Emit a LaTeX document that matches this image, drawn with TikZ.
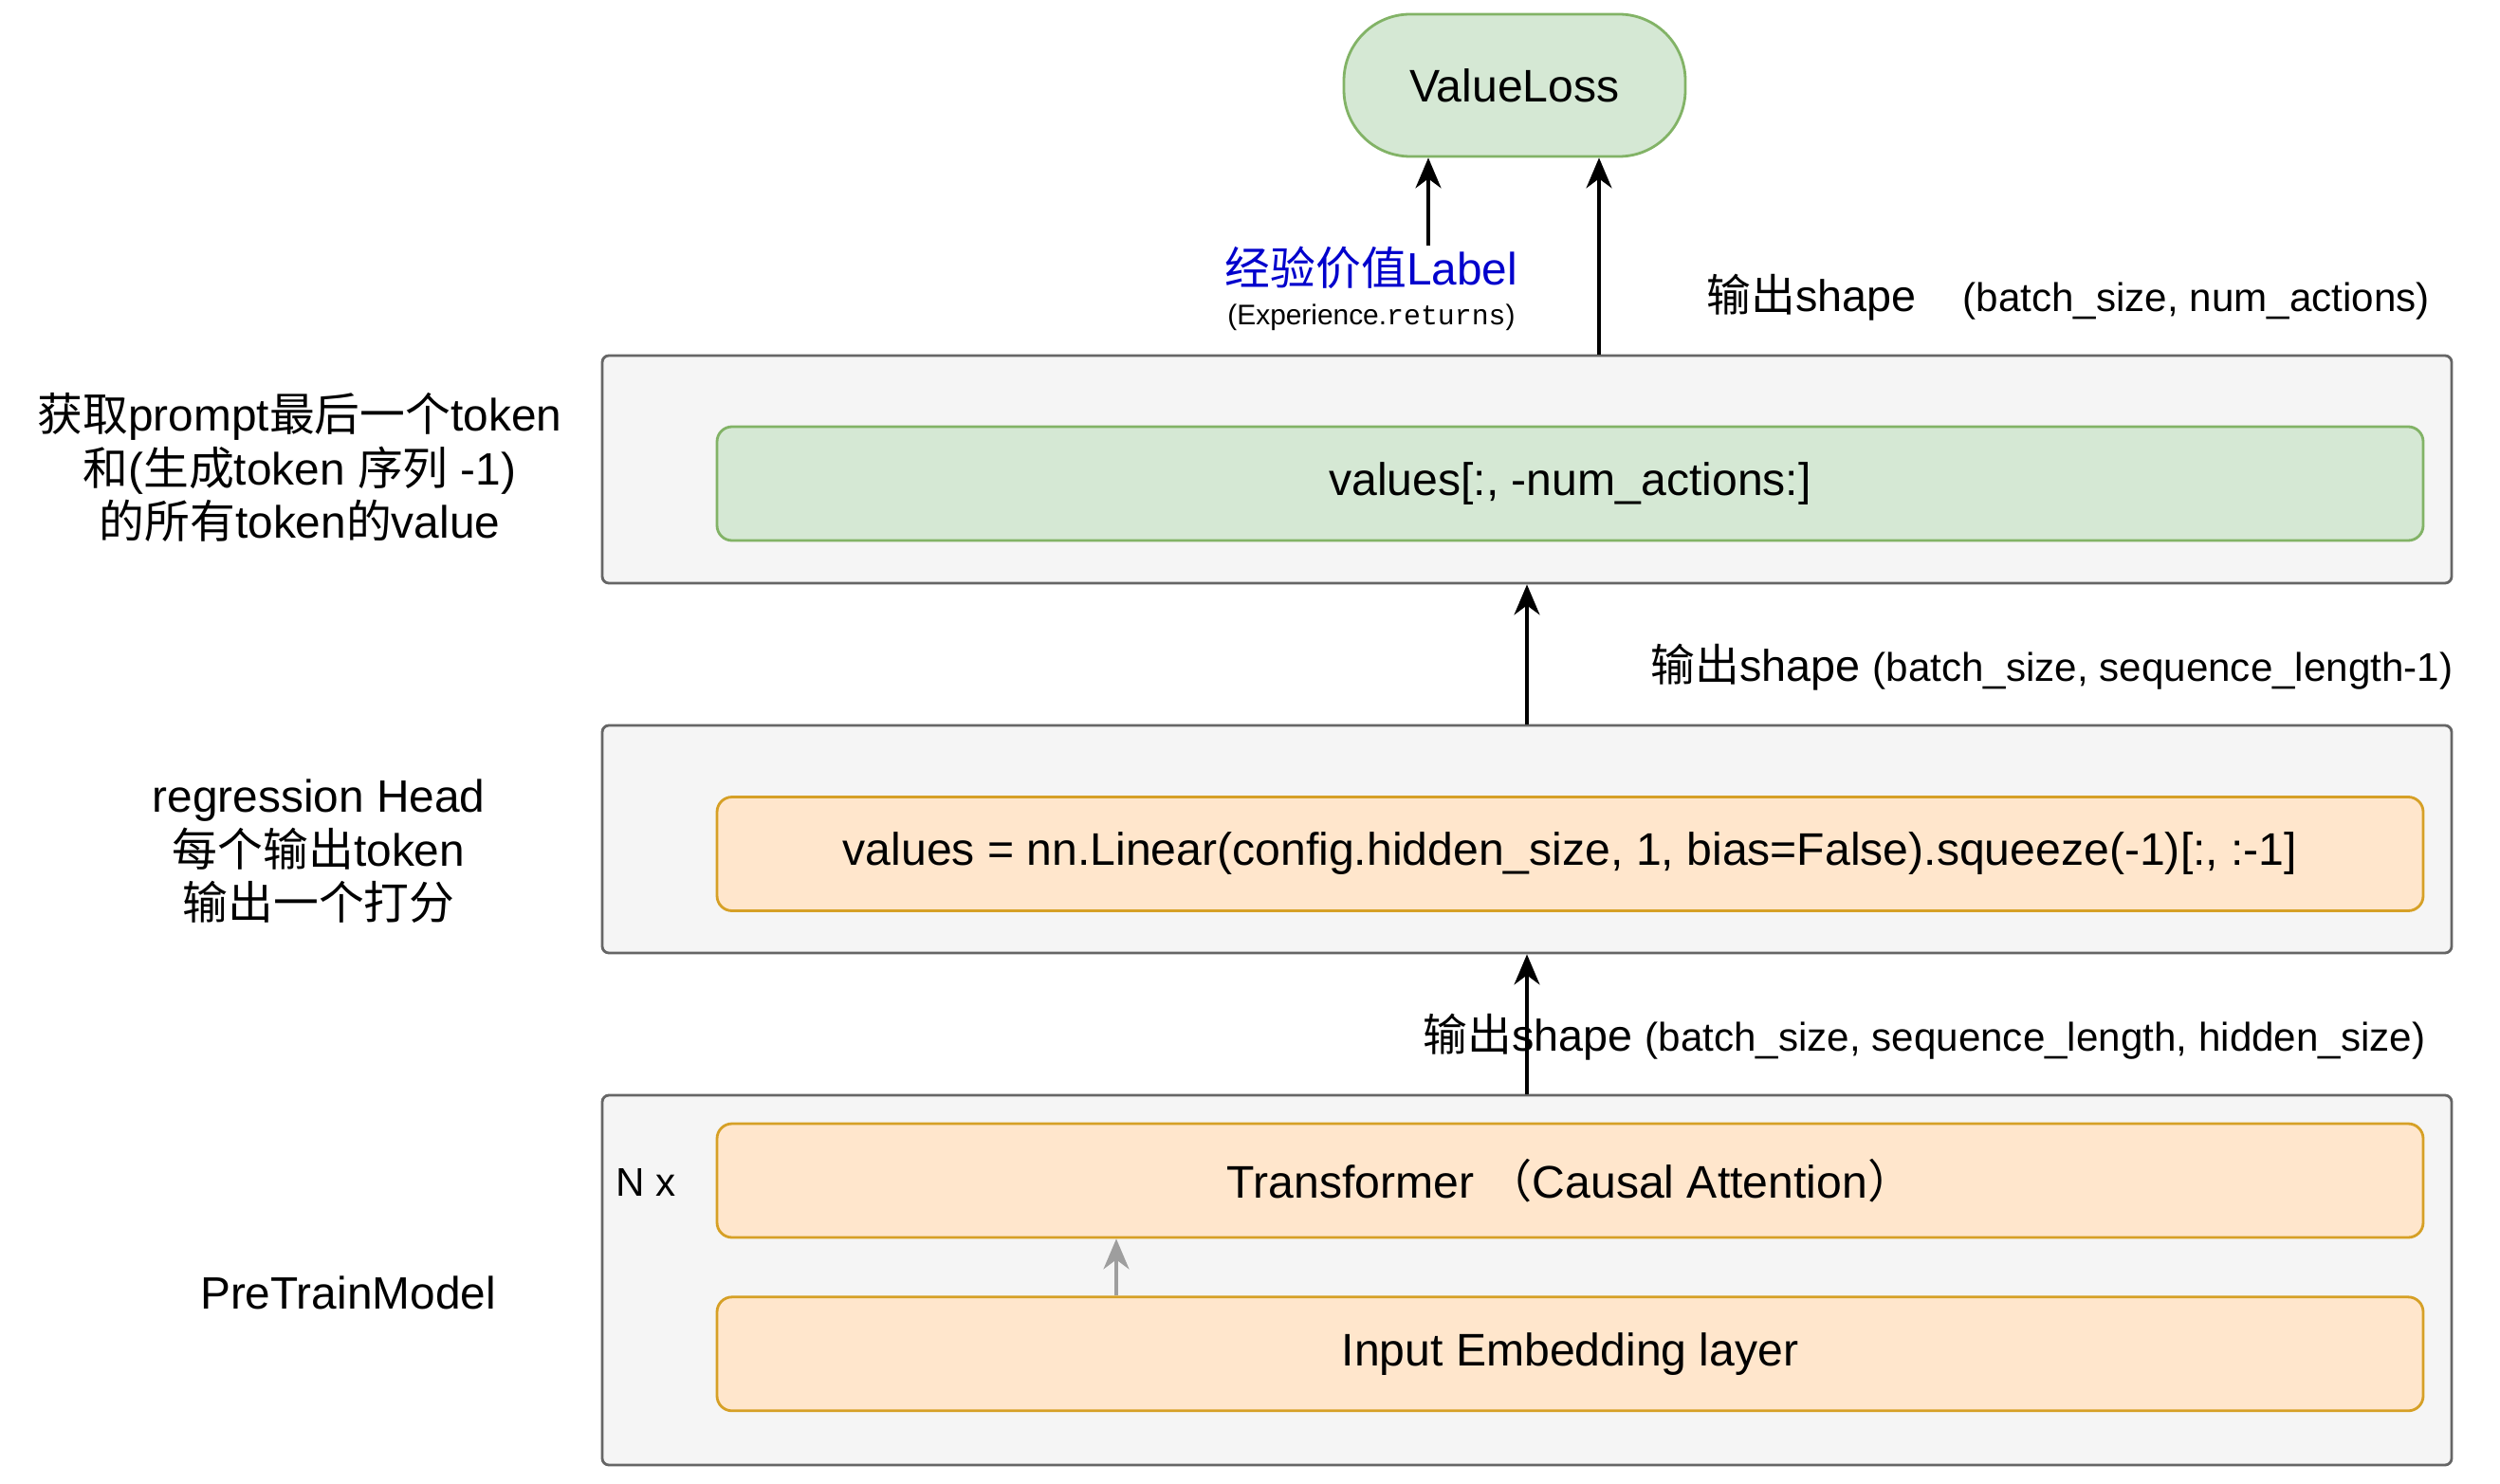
\documentclass[tikz,border=0pt]{standalone}
\usepackage{fontspec}
\setmainfont{Liberation Sans}
\newfontfamily\cjk{Noto Sans CJK SC}
\newfontfamily\codefont{Liberation Mono}
\newcommand{\zh}[1]{{\cjk #1}}
\usetikzlibrary{arrows.meta, positioning}
\definecolor{layerfill}{HTML}{F5F5F5}
\definecolor{layerline}{HTML}{666666}
\definecolor{greenfill}{HTML}{D5E8D4}
\definecolor{greenline}{HTML}{82B366}
\definecolor{orangefill}{HTML}{FFE6CC}
\definecolor{orangeline}{HTML}{D6A026}
\definecolor{labelblue}{HTML}{0000CC}
\tikzset{
  layer/.style={draw=layerline, fill=layerfill, line width=0.8pt, rounded corners=2pt, minimum width=19.5cm, minimum height=2.4cm},
  block/.style={line width=0.8pt, rounded corners=4.5pt, minimum width=17.99cm, minimum height=1.2cm, font=\fontsize{13.7}{16}\selectfont},
  greenblock/.style={block, draw=greenline, fill=greenfill},
  orangeblock/.style={block, draw=orangeline, fill=orangefill},
  note/.style={align=center, inner sep=0pt, font=\fontsize{13.6}{16.1}\selectfont},
  shapetxt/.style={anchor=west, inner sep=0pt, font=\fontsize{13.3}{16}\selectfont},
  flow/.style={-{Stealth[length=3.2mm, width=2.7mm, inset=1mm]}, line width=0.9pt},
  innerflow/.style={flow, draw=black!38, fill=black!38},
}

\begin{document}
\begin{tikzpicture}
  \useasboundingbox (0,0) rectangle (26.36,-15.65);

  % loss and label
  \node[draw=greenline, fill=greenfill, line width=0.8pt, rounded corners=0.7cm,
        minimum width=3.6cm, minimum height=1.5cm, font=\fontsize{13.7}{16}\selectfont] (loss) at (15.97,-0.90) {ValueLoss};
  \node[note, text=labelblue] (lbl) at (14.46,-2.82) {\zh{经验价值}Label};
  \node[note, font=\fontsize{8.5}{10}\selectfont] (lblsrc) at (14.46,-3.35) {(Experience.{\codefont returns})};

  % layers
  \node[layer] (outbox) at (16.10,-4.95) {};
  \node[greenblock] (vals) at (16.555,-5.10) {values[:, -num\_actions:]};
  \node[layer] (headbox) at (16.10,-8.85) {};
  \node[orangeblock] (head) at (16.555,-9.005) {values = nn.Linear(config.hidden\_size, 1, bias=False).squeeze(-1)[:, :-1]};
  \node[layer, minimum height=3.9cm] (ptmbox) at (16.10,-13.50) {};
  \node[orangeblock] (tfm) at (16.555,-12.45) {Transformer \zh{（}Causal Attention\zh{）}};
  \node[orangeblock, below=0.6cm of tfm] (emb) {Input Embedding layer};
  \node[note, font=\fontsize{12}{14}\selectfont] (nx) at (6.81,-12.47) {N x};

  % side notes
  \node[note] (outnote) at (3.16,-4.93) {\zh{获取}prompt\zh{最后一个}token\\\zh{和}(\zh{生成}token \zh{序列} -1)\\\zh{的所有}token\zh{的}value};
  \node[note] (headnote) at (3.36,-8.98) {regression Head\\\zh{每个输出}token\\\zh{输出一个打分}};
  \node[note] (ptmnote) at (3.67,-13.63) {PreTrainModel};

  % shapes
  \node[shapetxt] (shape1) at (17.99,-3.14) {\zh{输出}shape\hspace{14pt}{\fontsize{12}{14}\selectfont (batch\_size, num\_actions)}};
  \node[shapetxt] (shape2) at (17.40,-7.04) {\zh{输出}shape {\fontsize{12}{14}\selectfont (batch\_size, sequence\_length-1)}};
  \node[shapetxt] (shape3) at (15.00,-10.94) {\zh{输出}shape {\fontsize{12}{14}\selectfont (batch\_size, sequence\_length, hidden\_size)}};

  % arrows
  \coordinate (lx) at (15.06,0);
  \coordinate (vx) at (16.86,0);
  \coordinate (gx) at (11.77,0);
  \draw[flow] (lbl.north -| lx) -- (loss.south -| lx);
  \draw[flow] (outbox.north -| vx) -- (loss.south -| vx);
  \draw[flow] (headbox.north) -- (outbox.south);
  \draw[flow] (ptmbox.north) -- (headbox.south);
  \draw[innerflow] (emb.north -| gx) -- (tfm.south -| gx);
\end{tikzpicture}
\end{document}
